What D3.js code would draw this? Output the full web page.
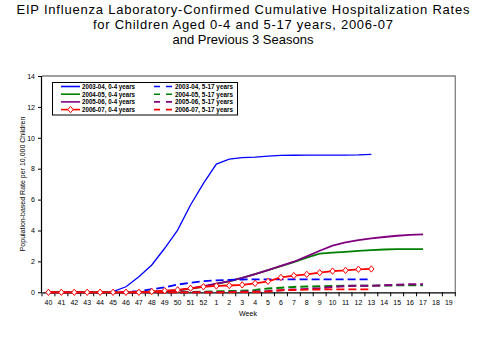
<!DOCTYPE html>
<html><head><meta charset="utf-8">
<script src="https://cdn.jsdelivr.net/npm/d3@7"></script>
<style>body{margin:0;background:#fff}svg{display:block;font-family:"Liberation Sans",Arial,sans-serif}</style>
</head><body>
<svg id="c" width="479" height="360"></svg>
<script>
const titleLines = ["EIP Influenza Laboratory-Confirmed Cumulative Hospitalization Rates",
  "for Children Aged 0-4 and 5-17 years, 2006-07", "and Previous 3 Seasons"];
const weeks = ["40","41","42","43","44","45","46","47","48","49","50","51","52",
  "1","2","3","4","5","6","7","8","9","10","11","12","13","14","15","16","17","18","19"];
const yTicks = [0,2,4,6,8,10,12,14];
const seriesNames = ["2003-04, 0-4 years","2004-05, 0-4 years","2005-06, 0-4 years","2006-07, 0-4 years",
  "2003-04, 5-17 years","2004-05, 5-17 years","2005-06, 5-17 years","2006-07, 5-17 years"];
// values from week 40 onward
const s0304young = [0,0,0,0,0,0.05,0.36,1.0,1.77,2.85,4.03,5.65,7.05,8.3,8.62,8.72,8.75,8.82,8.86,8.87,8.88,8.88,8.88,8.88,8.89,8.93];
const s0405young = [0,0,0,0,0,0,0,0.02,0.05,0.08,0.13,0.22,0.37,0.55,0.7,0.93,1.18,1.44,1.7,1.96,2.24,2.5,2.57,2.62,2.68,2.73,2.77,2.79,2.8,2.8];
const s0506young = [0,0,0,0,0,0,0,0,0.03,0.07,0.13,0.25,0.4,0.56,0.72,0.93,1.18,1.44,1.71,1.98,2.33,2.69,3.02,3.23,3.38,3.49,3.58,3.66,3.72,3.75];
const s0607young = [0,0,0,0,0,0,0,0,0.05,0.1,0.16,0.26,0.36,0.41,0.44,0.48,0.58,0.71,0.96,1.08,1.16,1.27,1.37,1.42,1.49,1.51];
const s0304old = [0,0,0,0,0,0,0.03,0.08,0.2,0.33,0.5,0.62,0.72,0.77,0.81,0.83,0.84,0.84,0.84,0.84,0.84,0.84,0.84,0.84,0.84,0.84];
const s0405old = [0,0,0,0,0,0,0,0,0,0,0,0.02,0.04,0.06,0.08,0.1,0.15,0.25,0.3,0.35,0.37,0.39,0.41,0.42,0.43,0.43,0.44,0.45,0.45,0.45];
const s0506old = [0,0,0,0,0,0,0,0,0,0,0,0,0,0,0.02,0.04,0.05,0.08,0.14,0.18,0.22,0.27,0.34,0.4,0.42,0.43,0.45,0.49,0.52,0.52];
const s0607old = [0,0,0,0,0,0,0,0,0,0,0,0,0,0,0,0.01,0.02,0.05,0.13,0.15,0.17,0.18,0.19,0.19,0.19,0.19];

const svg = d3.select("#c");
const L = 42, R = 455.3, T = 76, B = 292.3;
const x = d3.scaleBand().domain(weeks).range([L, R]).padding(0);
const y = d3.scaleLinear().domain([0,14]).range([B, T]);

// title
const titleWidths = [453, 300, null];
svg.append("g").selectAll("text").data(titleLines).join("text")
  .attr("x", 243).attr("y", (d,i)=>14+i*15.2).attr("text-anchor","middle")
  .attr("font-size", 13).attr("fill","#000")
  .attr("textLength",(d,i)=>titleWidths[i]).attr("lengthAdjust","spacing").text(d=>d);

// plot border (top/right gray)
svg.append("path").attr("d", `M${L},${T}H${R}V${B}`).attr("fill","none").attr("stroke","#808080").attr("stroke-width",1.3);

// y axis
const ya = svg.append("g").attr("transform",`translate(${L},0)`)
  .call(d3.axisLeft(y).tickValues(yTicks).tickSize(4).tickPadding(3).tickFormat(d3.format("d")));
ya.selectAll("path,line").attr("stroke","#000");
ya.selectAll("text").attr("font-size",7).attr("font-family","Liberation Sans, Arial");
ya.select(".domain").attr("d", `M-0.5,${T}V${B}`).attr("stroke-width",1.2);

// x axis
const xa = svg.append("g").attr("transform",`translate(0,${B})`)
  .call(d3.axisBottom(x).tickSize(0).tickPadding(8));
xa.selectAll("text").attr("font-size",7).attr("font-family","Liberation Sans, Arial");
xa.select(".domain").attr("stroke","#000").attr("stroke-width",1.3);
xa.append("g").selectAll("line").data(weeks.concat(["end"])).join("line")
  .attr("x1", d=> d==="end" ? R : x(d)).attr("x2", d=> d==="end" ? R : x(d))
  .attr("y1",0).attr("y2",4).attr("stroke","#000");

// axis titles
svg.append("text").attr("x",248).attr("y",316).attr("font-size",7).attr("text-anchor","middle").text("Week");
svg.append("text").attr("transform","translate(25,184) rotate(-90)").attr("text-anchor","middle")
  .attr("font-size",7).text("Population-based Rate per 10,000 Children");

const series = [
  {name:seriesNames[0], vals:s0304young, color:"#0000FF", dash:null, w:1.3},
  {name:seriesNames[1], vals:s0405young, color:"#008000", dash:null, w:1.8},
  {name:seriesNames[2], vals:s0506young, color:"#800080", dash:null, w:1.8},
  {name:seriesNames[4], vals:s0304old, color:"#0000FF", dash:"8,4", w:1.8},
  {name:seriesNames[5], vals:s0405old, color:"#008000", dash:"8,4", w:2},
  {name:seriesNames[6], vals:s0506old, color:"#800080", dash:"8,4", w:2},
  {name:seriesNames[7], vals:s0607old, color:"#FF0000", dash:"8,4", w:1.8},
  {name:seriesNames[3], vals:s0607young, color:"#FF0000", dash:null, w:1.8, marker:true}
];
const cx = i => x(weeks[i]) + x.bandwidth()/2;
const line = d3.line().x((d,i)=>cx(i)).y(d=>y(d));
const diamond = {draw(ctx){ctx.moveTo(0,-3.2);ctx.lineTo(2.6,0);ctx.lineTo(0,3.2);ctx.lineTo(-2.6,0);ctx.closePath();}};
const sym = d3.symbol().type(diamond);

series.forEach(s=>{
  svg.append("path").datum(s.vals).attr("d",line).attr("fill","none")
    .attr("stroke",s.color).attr("stroke-width",s.w).attr("stroke-dasharray",s.dash);
  if (s.marker) {
    svg.append("g").selectAll("path").data(s.vals).join("path")
      .attr("transform",(d,i)=>`translate(${cx(i)},${y(d)})`).attr("d",sym)
      .attr("fill","#fff").attr("stroke",s.color).attr("stroke-width",1);
  }
});

// legend
const lg = svg.append("g");
lg.append("rect").attr("x",52.5).attr("y",82.5).attr("width",185).attr("height",32.5)
  .attr("fill","#fff").attr("stroke","#000").attr("stroke-width",1);
const legendItems = [
  {name:seriesNames[0], color:"#0000FF", dash:null},
  {name:seriesNames[1], color:"#008000", dash:null},
  {name:seriesNames[2], color:"#800080", dash:null},
  {name:seriesNames[3], color:"#FF0000", dash:null, marker:true},
  {name:seriesNames[4], color:"#0000FF", dash:"6,6"},
  {name:seriesNames[5], color:"#008000", dash:"6,6"},
  {name:seriesNames[6], color:"#800080", dash:"6,6"},
  {name:seriesNames[7], color:"#FF0000", dash:"6,6"}
];
legendItems.forEach((d,i)=>{
  const col = Math.floor(i/4), row = i%4;
  const x0 = col ? 154 : 61, yy = 86.5 + row*7.7;
  lg.append("line").attr("x1",x0).attr("x2",x0+19).attr("y1",yy).attr("y2",yy)
    .attr("stroke",d.color).attr("stroke-width",1.6).attr("stroke-dasharray",d.dash);
  if (d.marker) lg.append("path").attr("transform",`translate(${x0+9.5},${yy})`).attr("d",sym)
    .attr("fill","#fff").attr("stroke",d.color);
  lg.append("text").attr("x",x0+21).attr("y",yy+2.3).attr("font-size",6.5).attr("font-weight","bold")
    .attr("textLength", col ? 58 : 53).attr("lengthAdjust","spacingAndGlyphs").text(d.name);
});
</script>
</body></html>
